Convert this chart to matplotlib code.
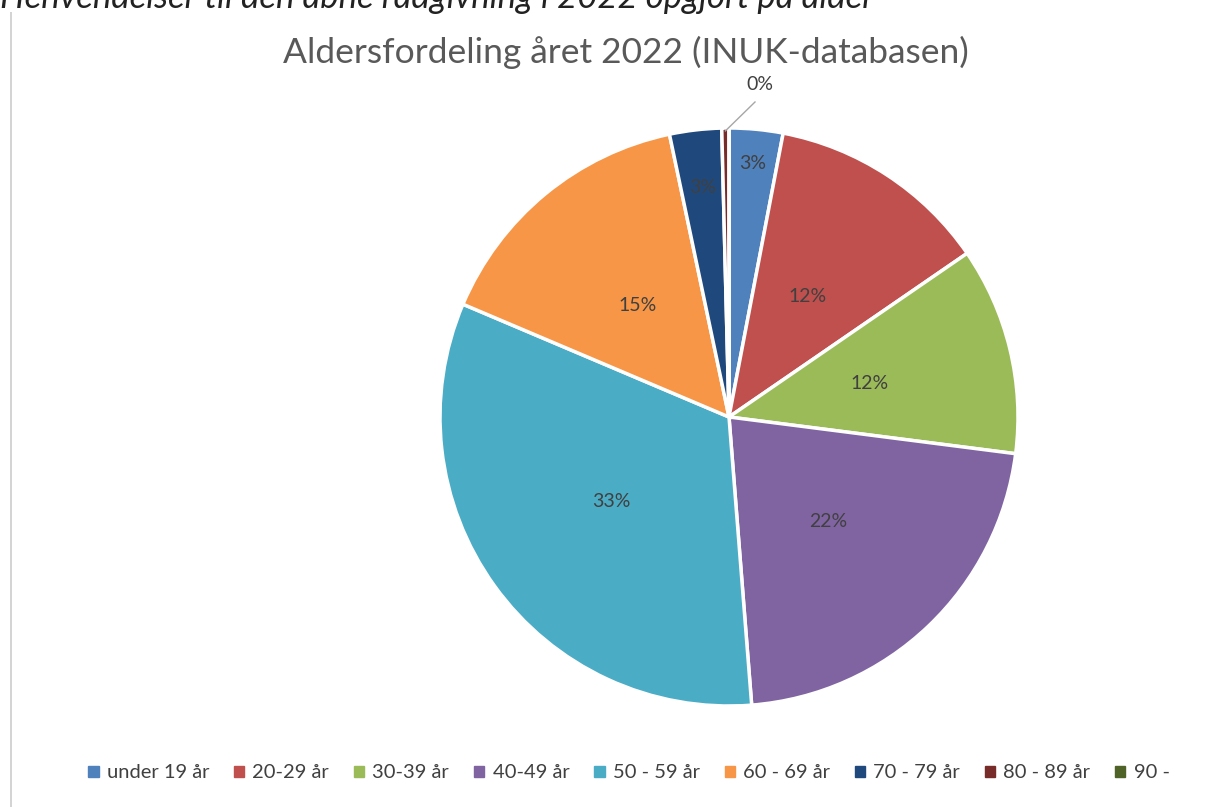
import numpy as np
import matplotlib.pyplot as plt
from matplotlib.patches import Rectangle

labels = ['under 19 år', '20-29 år', '30-39 år', '40-49 år', '50 - 59 år',
          '60 - 69 år', '70 - 79 år', '80 - 89 år', '90 -']
shares = [3.0, 12.4, 11.6, 21.7, 32.6, 15.3, 2.9, 0.4, 0.0]
pct_text = ['3%', '12%', '12%', '22%', '33%', '15%', '3%', '0%', '']

colors = ['#4f81bd', '#c0504d', '#9bbb59', '#8064a2', '#4bacc6',
          '#f79646', '#1f497d', '#772c2a', '#4f6228']
label_r = [0.88, 0.5, 0.5, 0.5, 0.5, 0.5, 0.8, 1.13, 1.13]

plt.rcParams['font.family'] = ['Lato', 'DejaVu Sans']

fig = plt.figure(figsize=(12.24, 8.07), dpi=100)

# caption above the chart, cut off at the top as in the source
fig.text(0.0, 1 - 8 / 807, 'Henvendelser til den åbne rådgivning i 2022 opgjort på alder',
         fontsize=25, style='italic', color='#222222', va='baseline', ha='left')

# chart frame (left edge line)
fig.add_artist(Rectangle((10 / 1224, 0), 2 / 1224, 1 - 12 / 807, transform=fig.transFigure,
                         color='#d4d4d4', lw=0))

cx, cy, r = 729, 807 - 417, 289
ax = fig.add_axes([(cx - r) / 1224, (cy - r) / 807, 2 * r / 1224, 2 * r / 807])
wedges, _ = ax.pie(shares, colors=colors, startangle=90, counterclock=False,
                   wedgeprops=dict(edgecolor='white', linewidth=2.5))
ax.set_xlim(-1, 1)
ax.set_ylim(-1, 1)
ax.set_aspect('equal')

for w, t, d in zip(wedges, pct_text, label_r):
    if not t:
        continue
    ang = np.deg2rad((w.theta1 + w.theta2) / 2)
    x, y = d * np.cos(ang), d * np.sin(ang)
    if d > 1:
        ax.plot([0.99 * np.cos(ang), 0.07 + 0.02], [0.99 * np.sin(ang), 1.09],
                color='#a6a6a6', lw=1, clip_on=False)
        ax.text(0.06, 1.12, t, fontsize=14, color='#404040', ha='left', va='bottom')
    else:
        ax.text(x, y, t, fontsize=14, color='#404040', ha='center', va='center')

fig.text(626 / 1224, 1 - 52 / 807, 'Aldersfordeling året 2022 (INUK-databasen)',
         fontsize=25.5, color='#595959', ha='center', va='center')

handles = [Rectangle((0, 0), 1, 1, color=c) for c in colors]
fig.legend(handles, labels, loc='center', bbox_to_anchor=(629 / 1224, 1 - 773 / 807),
           ncol=9, frameon=False, fontsize=14.5, handlelength=0.5, handleheight=0.5,
           handletextpad=0.4, columnspacing=1.25, labelcolor='#404040')

fig.savefig('out.png', dpi=100)
